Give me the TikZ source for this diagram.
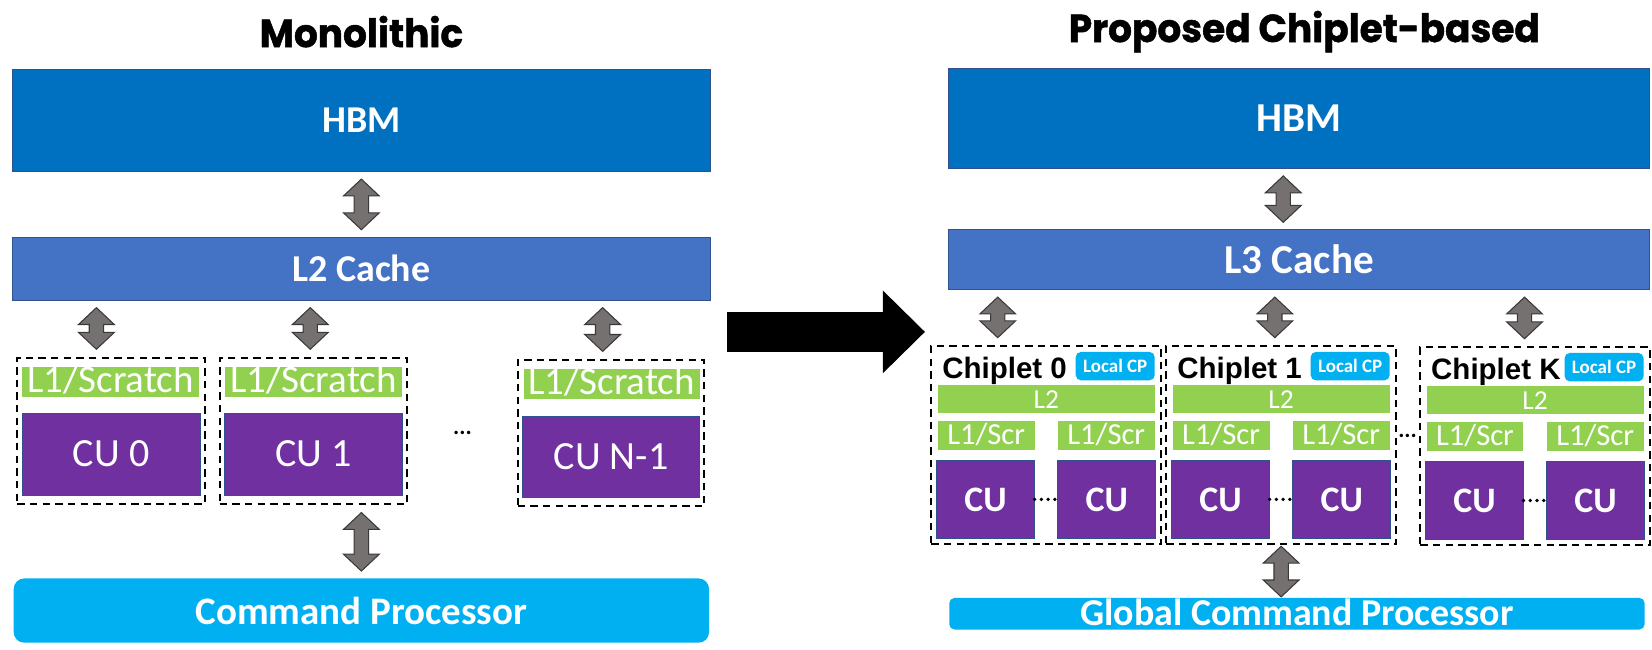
\documentclass[tikz,border=0pt]{standalone}
\usepackage{fontspec}
\setmainfont{Carlito}
\newfontfamily\headfont{Poppins}[FakeStretch=0.96,FakeBold=1.2]
\newfontfamily\chipfont{Liberation Sans}
\usetikzlibrary{arrows.meta,calc,fit}

\definecolor{hbmblue}{HTML}{0070C0}
\definecolor{cacheblue}{HTML}{4472C4}
\definecolor{l1green}{HTML}{92D050}
\definecolor{cupurple}{HTML}{7030A0}
\definecolor{cpcyan}{HTML}{00B0F0}
\definecolor{busgray}{HTML}{767171}
\definecolor{busline}{HTML}{3B3838}
\definecolor{boxedge}{HTML}{2F528F}

\tikzset{
  box/.style={inner sep=0pt, outer sep=0pt, text=white},
  head/.style={font=\headfont\bfseries\fontsize{18.5}{20}\selectfont},
  mem/.style={box, fill=hbmblue, draw=boxedge, line width=0.4pt, font=\bfseries\fontsize{18}{20}\selectfont},
  cache/.style={box, fill=cacheblue, draw=boxedge, line width=0.4pt, font=\bfseries\fontsize{18}{20}\selectfont},
  l1/.style={box, fill=l1green, minimum width=84pt, minimum height=14.5pt, text height=12pt, text depth=2pt, font=\fontsize{18.5}{20}\selectfont},
  cu/.style={box, fill=cupurple, draw=boxedge, line width=0.4pt, minimum width=84.5pt, minimum height=39pt, font=\fontsize{19}{21}\selectfont},
  cuwrap/.style={draw, line width=1pt, dash pattern=on 3.5pt off 2.5pt, inner xsep=2.25pt, inner ysep=4.25pt},
  chipwrap/.style={draw, line width=1pt, dash pattern=on 3.5pt off 2.5pt, inner xsep=2.5pt, inner ysep=2.75pt},
  cp/.style={box, fill=cpcyan, rounded corners=5pt, font=\bfseries\fontsize{18.5}{20}\selectfont},
  chiptag/.style={inner sep=0pt, font=\chipfont\bfseries\fontsize{14}{16}\selectfont},
  localcp/.style={box, fill=cpcyan, rounded corners=2.5pt, minimum width=37.5pt, minimum height=13.5pt, font=\bfseries\fontsize{9}{10}\selectfont},
  l2bar/.style={box, fill=l1green, minimum width=103pt, minimum height=13.5pt, text height=9pt, text depth=0pt, font=\fontsize{13}{15}\selectfont},
  l1s/.style={box, fill=l1green, minimum width=46pt, minimum height=13.5pt, text height=10pt, text depth=2pt, font=\fontsize{14.5}{16}\selectfont},
  cus/.style={box, fill=cupurple, draw=boxedge, line width=0.4pt, minimum width=46.5pt, minimum height=37pt, font=\bfseries\fontsize{17}{19}\selectfont},
  cudots/.style={line width=1.8pt, dash pattern=on 0pt off 3.2pt, line cap=round},
  etc/.style={inner sep=0pt, font=\bfseries\fontsize{11}{12}\selectfont},
  bus/.style={draw=busline, fill=busgray, line width=0.5pt, line join=miter,
    to path={let \p1=(\tikztostart), \p2=(\tikztotarget) in
      (\x1,\y1-#1) -- (\x1+8.5pt,\y1-#1-8pt) -- (\x1+3.4pt,\y1-#1-8pt) -- (\x1+3.4pt,\y2+#1+8pt)
      -- (\x1+8.5pt,\y2+#1+8pt) -- (\x1,\y2+#1) -- (\x1-8.5pt,\y2+#1+8pt) -- (\x1-3.4pt,\y2+#1+8pt)
      -- (\x1-3.4pt,\y1-#1-8pt) -- (\x1-8.5pt,\y1-#1-8pt) -- cycle}},
  bus/.default=3.5pt,
  bigarrow/.style={line width=19pt, -{Triangle[length=20pt,width=38pt]}}
}

\begin{document}
\begin{tikzpicture}[x=0.5pt,y=-0.5pt]
\useasboundingbox (0,0) rectangle (1568,616);
% monolithic
\node[head] (titleL) at (343,30) {Monolithic};
\node[mem, minimum width=331pt, minimum height=48.5pt] (hbmL) at (343,114.5) {HBM};
\node[cache, minimum width=331pt, minimum height=30pt] (l2L) at (343,255) {L2 Cache};
\node[l1] (l1L0) at (105,362.5) {L1/Scratch};
\node[cu] (cuL0) at (105.5,431) {CU 0};
\node[cuwrap, fit=(l1L0)(cuL0)] (cuw0) {};
\node[l1] (l1L1) at (297.5,362.5) {L1/Scratch};
\node[cu] (cuL1) at (297.5,431) {CU 1};
\node[cuwrap, fit=(l1L1)(cuL1)] (cuw1) {};
\node[etc] (gapL) at (439,411) {...};
\node[l1, minimum width=83.5pt] (l1LN) at (580.5,364.5) {L1/Scratch};
\node[cu, minimum width=84pt, minimum height=38.5pt] (cuLN) at (580,433.5) {CU N-1};
\node[cuwrap, fit=(l1LN)(cuLN)] (cuwN) {};
\node[cp, minimum width=330pt, minimum height=30.5pt] (cpL) at (343,579.5) {Command Processor};
\coordinate (t0) at ([xshift=-7pt]cuw0.north);
\coordinate (t1) at ([xshift=-1.5pt]cuw1.north);
\coordinate (tN) at ([xshift=-4pt]cuwN.north);
\draw[bus] (hbmL.south) to (l2L.north);
\draw[bus] (l2L.south -| t0) to (t0);
\draw[bus] (l2L.south -| t1) to (t1);
\draw[bus] (l2L.south -| tN) to (tN);
\draw[bus] (cpL.north |- cuw1.south) to (cpL.north);
% shift to chiplets
\coordinate (shiftA) at (690,315);
\coordinate (shiftB) at (878,315);
\draw[bigarrow] (shiftA) -- (shiftB);
% chiplet-based
\node[head] (titleR) at (1238,30) {Proposed Chiplet-based};
\node[mem, minimum width=333pt, minimum height=47.5pt, font=\bfseries\fontsize{19.5}{21}\selectfont] (hbmR) at (1233,112.5) {HBM};
\node[cache, minimum width=333pt, minimum height=28.5pt, font=\bfseries\fontsize{19.5}{21}\selectfont] (l3R) at (1233,246.5) {L3 Cache};
\foreach \i/\L/\T in {0/885/330,1/1108/330,K/1349/331}{
  \node[chiptag, anchor=base west] (tag\i) at (\L+9,\T+29) {Chiplet \i};
  \node[localcp] (lcp\i) at (\L+173.5,\T+17.5) {Local CP};
  \node[l2bar] (l2c\i) at (\L+108,\T+48.5) {L2};
  \node[l1s] (l1a\i) at (\L+51,\T+83.5) {L1/Scr};
  \node[l1s] (l1b\i) at (\L+165,\T+83.5) {L1/Scr};
  \node[cus] (cua\i) at (\L+50.5,\T+144) {CU};
  \node[cus] (cub\i) at (\L+165.5,\T+144) {CU};
  \draw[cudots] (cua\i.east) -- (cub\i.west);
  \node[chipwrap, fit=(lcp\i)(l2c\i)(cua\i)(cub\i)] (chip\i) {};
}
\node[etc] (gapR) at (1336,414) {...};
\node[cp, rounded corners=2.5pt, minimum width=330pt, minimum height=15pt, text height=11pt, text depth=0pt, font=\bfseries\fontsize{18}{20}\selectfont] (gcp) at (1231,582.5) {Global Command Processor};
\coordinate (h3) at ([xshift=-7.5pt]l3R.north);
\coordinate (c0) at ([xshift=-23pt]chip0.north);
\coordinate (c1) at ([xshift=-3pt]chip1.north);
\coordinate (cK) at ([xshift=-5pt]chipK.north);
\draw[bus] (hbmR.south -| h3) to (h3);
\draw[bus] (l3R.south -| c0) to (c0);
\draw[bus] (l3R.south -| c1) to (c1);
\draw[bus] (l3R.south -| cK) to (cK);
\draw[bus=0.5pt] (chip1.south) to (chip1.south |- gcp.north);
\end{tikzpicture}
\end{document}
